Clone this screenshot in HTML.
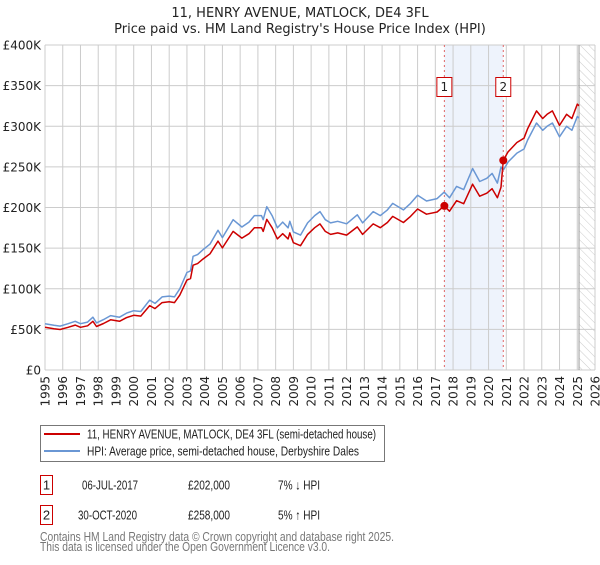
<!DOCTYPE html>
<html><head><meta charset="utf-8"><style>
body{margin:0;background:#fff;font-family:"Liberation Sans","DejaVu Sans",sans-serif;}
svg text{font-family:"DejaVu Sans","Liberation Sans",sans-serif;}
svg text.ls{font-family:"Liberation Sans","DejaVu Sans",sans-serif;}
</style></head><body>
<svg id="c" width="600" height="560" xmlns="http://www.w3.org/2000/svg">
<defs><pattern id="hatch" width="6" height="6" patternUnits="userSpaceOnUse" patternTransform="rotate(-45)"><line x1="0" y1="0" x2="0" y2="6" stroke="#ccc" stroke-width="1"/></pattern></defs>
<text x="300" y="17" text-anchor="middle" font-size="13" fill="#222">11, HENRY AVENUE, MATLOCK, DE4 3FL</text>
<text x="300" y="33" text-anchor="middle" font-size="13" fill="#222">Price paid vs. HM Land Registry's House Price Index (HPI)</text>
<g id="grid"></g><g id="marks"></g><g id="axes"></g>
<g>
<rect x="40.5" y="425.5" width="344" height="36" fill="#fff" stroke="#777"/>
<line x1="44" y1="434" x2="80" y2="434" stroke="#cc0000" stroke-width="2"/>
<text class="ls" x="87" y="438.5" font-size="12.5" fill="#222" textLength="289" lengthAdjust="spacingAndGlyphs">11, HENRY AVENUE, MATLOCK, DE4 3FL (semi-detached house)</text>
<line x1="44" y1="451" x2="80" y2="451" stroke="#6a97d4" stroke-width="2"/>
<text class="ls" x="87" y="455.5" font-size="12.5" fill="#222" textLength="272" lengthAdjust="spacingAndGlyphs">HPI: Average price, semi-detached house, Derbyshire Dales</text>
</g>
<g font-size="13" fill="#222">
<rect x="40.5" y="475.5" width="12" height="19" fill="#fff" stroke="#cc0000"/><text class="ls" x="46.5" y="489.5" text-anchor="middle">1</text>
<text class="ls" x="82" y="489.5" textLength="56" lengthAdjust="spacingAndGlyphs">06-JUL-2017</text><text class="ls" x="188" y="489.5" textLength="42" lengthAdjust="spacingAndGlyphs">£202,000</text><text class="ls" x="278" y="489.5" textLength="42" lengthAdjust="spacingAndGlyphs">7% ↓ HPI</text>
<rect x="40.5" y="505.5" width="12" height="19" fill="#fff" stroke="#cc0000"/><text class="ls" x="46.5" y="519.5" text-anchor="middle">2</text>
<text class="ls" x="78" y="519.5" textLength="59" lengthAdjust="spacingAndGlyphs">30-OCT-2020</text><text class="ls" x="188" y="519.5" textLength="42" lengthAdjust="spacingAndGlyphs">£258,000</text><text class="ls" x="278" y="519.5" textLength="42" lengthAdjust="spacingAndGlyphs">5% ↑ HPI</text>
</g>
<text class="ls" x="40" y="541" font-size="13" fill="#777" textLength="354" lengthAdjust="spacingAndGlyphs">Contains HM Land Registry data © Crown copyright and database right 2025.</text>
<text class="ls" x="40" y="551" font-size="13" fill="#777" textLength="290" lengthAdjust="spacingAndGlyphs">This data is licensed under the Open Government Licence v3.0.</text>
</svg>
<script>
const years=[1995.0,1995.5,1995.85,1996.3,1996.7,1997.0,1997.4,1997.7,1997.9,1998.3,1998.7,1999.2,1999.6,2000.0,2000.4,2000.9,2001.2,2001.6,2002.0,2002.3,2002.6,2003.0,2003.2,2003.35,2003.6,2003.9,2004.3,2004.75,2005.0,2005.6,2006.1,2006.5,2006.8,2007.2,2007.3,2007.5,2007.8,2008.1,2008.4,2008.7,2008.8,2009.0,2009.4,2009.8,2010.2,2010.5,2010.8,2011.1,2011.5,2012.0,2012.6,2012.9,2013.5,2013.9,2014.3,2014.6,2015.2,2015.6,2016.0,2016.5,2017.1,2017.5,2017.8,2018.2,2018.6,2019.1,2019.5,2019.9,2020.2,2020.5,2020.7,2020.83,2021.1,2021.6,2022.0,2022.2,2022.7,2023.05,2023.3,2023.6,2024.0,2024.4,2024.7,2025.0,2025.1];
const hpiValues=[57,55,54,57,60,57,59,65,58,62,67,65,70,73,72,86,82,90,91,90,100,120,122,140,142,148,155,172,163,185,176,182,190,190,185,201,190,175,182,175,183,170,166,181,190,195,185,181,183,180,191,181,195,190,197,205,197,205,215,208,211,219,212,226,222,248,232,236,242,230,250,246,256,267,272,283,304,295,300,304,287,300,295,312,310];
const priceValues=[52.6,50.7,49.8,52.6,55.3,52.6,54.4,59.9,53.5,57.2,61.8,59.9,64.5,67.3,66.4,79.3,75.6,83,83.9,83,92.2,110.6,112.5,129,131,136.5,143,158.6,150.3,170.6,162.3,167.8,175.2,175.2,170.6,185.3,175.2,161.4,167.8,161.4,168.7,156.7,153,166.9,175.2,179.8,170.6,166.9,168.7,166,176.1,166.9,179.8,175.2,181.6,189,181.6,189,198.2,191.8,194.5,202,195.5,208.4,204.7,228.7,213.9,217.6,223.1,212.1,225,258,268.5,280,285.3,296.9,318.9,309.5,314.7,318.9,301,314.7,309.5,327.3,325.2];
const saleYears=[2017.51,2020.83];
const saleValues=[202,258];
const yTicks=[0,50,100,150,200,250,300,350,400];
const yTickLabels=["£0","£50K","£100K","£150K","£200K","£250K","£300K","£350K","£400K"];
const xTicks=[1995,1996,1997,1998,1999,2000,2001,2002,2003,2004,2005,2006,2007,2008,2009,2010,2011,2012,2013,2014,2015,2016,2017,2018,2019,2020,2021,2022,2023,2024,2025,2026];
const dataEnd=2025.1;
const L=45,R=595,T=45,B=370;
const X=y=>L+(y-1995)/31*(R-L);
const Y=v=>B-v/400*(B-T);
const NS="http://www.w3.org/2000/svg";
function mk(tag,attrs,parent){const e=document.createElementNS(NS,tag);for(const k in attrs)e.setAttribute(k,attrs[k]);parent.appendChild(e);return e;}
const grid=document.getElementById('grid'),marks=document.getElementById('marks'),axes=document.getElementById('axes');
let sh=mk('rect',{x:X(saleYears[0]),y:T,width:X(saleYears[1])-X(saleYears[0]),height:B-T,fill:'#eef3fc'},grid);


xTicks.forEach(t=>{const l=mk('line',{x1:X(t),x2:X(t),y1:T,y2:B,stroke:'#ccc','stroke-width':1},grid);


const tx=mk('text',{x:0,y:0,'font-size':12,fill:'#222','text-anchor':'end',transform:`translate(${X(t)+4.5},376) rotate(-90)`},axes);tx.textContent=t;

});
yTicks.forEach((t,i)=>{const l=mk('line',{x1:L,x2:R,y1:Y(t),y2:Y(t),stroke:'#ccc','stroke-width':1},grid);


const tx=mk('text',{x:41,y:Y(t)+4.5,'font-size':12,fill:'#222','text-anchor':'end'},axes);tx.textContent=yTickLabels[i];

});
const hz=mk('rect',{x:X(dataEnd),y:T,width:R-X(dataEnd),height:B-T,fill:'url(#hatch)'},grid);


const hl=mk('line',{x1:X(dataEnd),x2:X(dataEnd),y1:T,y2:B,stroke:'#999','stroke-width':1},grid);


function line(vals,color,name){const d=years.map((y,i)=>(i?'L':'M')+X(y).toFixed(1)+','+Y(vals[i]).toFixed(1)).join('');
const p=mk('path',{d:d,fill:'none',stroke:color,'stroke-width':1.5,'stroke-linejoin':'round'},marks);

}
line(hpiValues,'#6a97d4','hpi-line');
line(priceValues,'#cc0000','price-paid-line');
saleYears.forEach((s,i)=>{const x=X(s);
const dl=mk('line',{x1:x,x2:x,y1:T,y2:B,stroke:'#e06666','stroke-width':1,'stroke-dasharray':'2,3'},marks);


const c=mk('circle',{cx:x,cy:Y(saleValues[i]),r:4,fill:'#cc0000'},marks);


const b=mk('rect',{x:x-7.5,y:77.5,width:15,height:19,fill:'#fff',stroke:'#cc0000'},marks);


const t=mk('text',{x:x,y:91,'font-size':12,'text-anchor':'middle',fill:'#222'},marks);t.textContent=String(i+1);

});
</script>
</body></html>
